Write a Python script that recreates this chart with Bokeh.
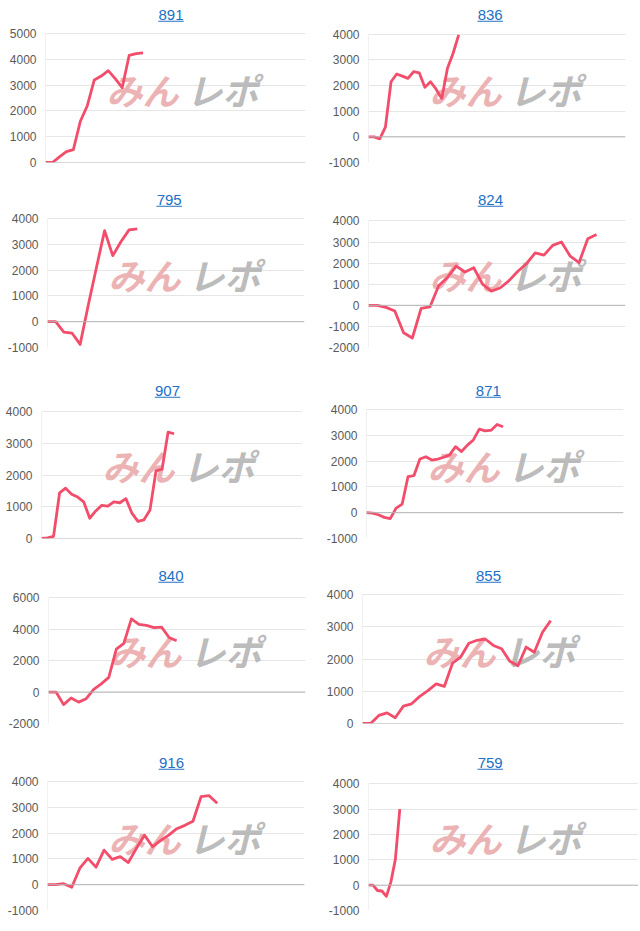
from bokeh.plotting import figure
from bokeh.layouts import column, row
from bokeh.models import Range1d, FixedTicker, Label, Span, BoxAnnotation, ColumnDataSource
from bokeh.embed import file_html
from bokeh.resources import INLINE

# ---------------- data ----------------
titles = ["891", "836", "795", "824", "907", "871", "840", "855", "916", "759"]

v891 = [0, 0, 220, 420, 500, 1600, 2200, 3200, 3350, 3560, 3250, 2900, 4150, 4220, 4250]
v836 = [0, 0, -80, 380, 2150, 2450, 2370, 2280, 2540, 2500, 1930, 2150, 1860, 1500, 2670, 3250, 3980]
v795 = [0, 0, -400, -440, -880, 650, 2100, 3530, 2560, 3100, 3560, 3600]
v824 = [0, 0, -100, -270, -1300, -1550, -150, -80, 930, 1320, 1860, 1580, 1780, 1000, 670,
        820, 1160, 1600, 1970, 2480, 2380, 2840, 3000, 2330, 2020, 3150, 3360]
v907 = [0, 20, 70, 1440, 1590, 1400, 1310, 1160, 640, 870, 1050, 1020, 1160, 1130, 1260,
        800, 540, 590, 900, 2140, 2190, 3360, 3310]
v871 = [0, -20, -80, -180, -230, 180, 330, 1400, 1440, 2080, 2170, 2040, 2080, 2150, 2240,
        2560, 2370, 2620, 2820, 3240, 3170, 3200, 3420, 3330]
v840 = [0, 0, -800, -380, -640, -420, 170, 520, 930, 2730, 3100, 4650, 4300, 4240, 4100,
        4130, 3470, 3260]
v855 = [0, 0, 250, 330, 180, 540, 610, 840, 1020, 1230, 1150, 1870, 2060, 2490, 2580, 2620,
        2420, 2320, 1930, 1790, 2370, 2210, 2830, 3190]
v916 = [0, 0, 40, -100, 640, 1020, 680, 1340, 980, 1090, 860, 1410, 1920, 1470, 1720, 1920,
        2170, 2300, 2460, 3410, 3450, 3160]
v759 = [0, 0, -210, -230, -440, 120, 1010, 3000]

series = [v891, v836, v795, v824, v907, v871, v840, v855, v916, v759]

# y-axis tick values per chart
ticks891 = [0, 1000, 2000, 3000, 4000, 5000]
ticks836 = [-1000, 0, 1000, 2000, 3000, 4000]
ticks795 = [-1000, 0, 1000, 2000, 3000, 4000]
ticks824 = [-2000, -1000, 0, 1000, 2000, 3000, 4000]
ticks907 = [0, 1000, 2000, 3000, 4000]
ticks871 = [-1000, 0, 1000, 2000, 3000, 4000]
ticks840 = [-2000, 0, 2000, 4000, 6000]
ticks855 = [0, 1000, 2000, 3000, 4000]
ticks916 = [-1000, 0, 1000, 2000, 3000, 4000]
ticks759 = [-1000, 0, 1000, 2000, 3000, 4000]
tick_sets = [ticks891, ticks836, ticks795, ticks824, ticks907, ticks871, ticks840, ticks855,
             ticks916, ticks759]

# ---------------- layout (not data) ----------------
PH = 129          # height of the tick range (plot area) in px
row_heights = [190, 192, 184, 187, 173]
col_widths = [320, 318]
# (plot top offset in row, border_left, plot width, x_end, title centre x from plot left)
layout = [
    (33, 45, 260, 37.3, 125.5),
    (34, 48, 257, 45.6, 121.7),
    (28, 47, 257, 31.5, 121.7),
    (31, 48, 257, 29.3, 122.0),
    (30, 41, 261, 43.3, 126.0),
    (27, 46, 257, 43.3, 121.8),
    (32, 48, 257, 34.1, 122.5),
    (28, 42, 261, 31.9, 126.0),
    (28, 47, 257, 31.8, 124.0),
    (31, 48, 270, 60.4, 121.7),
]

LINE_COLOR = "#f24d6b"
TITLE_COLOR = "#2170c6"


def make_chart(i, w, h):
    vals = series[i]
    ticks = tick_sets[i]
    top, bl, fw, x_end, tx = layout[i]
    y0, y1 = ticks[0], ticks[-1]
    # head-room above the top tick holds the title
    y_top = y1 + (y1 - y0) * top / PH
    p = figure(width=w, height=h, output_backend="svg", toolbar_location=None,
               x_axis_location=None, x_range=Range1d(0, x_end),
               y_range=Range1d(y0, y_top),
               min_border_top=0, min_border_left=bl,
               min_border_right=max(w - bl - fw, 0), min_border_bottom=h - top - PH)
    p.outline_line_color = None
    p.xgrid.visible = False
    p.ygrid.ticker = FixedTicker(ticks=ticks)
    p.ygrid.grid_line_color = "#e6e6e6"
    p.ygrid.grid_line_width = 1
    ax = p.yaxis[0]
    ax.ticker = FixedTicker(ticks=ticks)
    ax.major_label_overrides = {t: str(t) for t in ticks}
    ax.axis_line_color = None
    ax.major_tick_line_color = None
    ax.minor_tick_line_color = None
    ax.major_tick_out = 0
    ax.major_tick_in = 0
    ax.minor_tick_out = 0
    ax.major_label_standoff = 9
    ax.major_label_text_font = "Liberation Sans"
    ax.major_label_text_font_size = "12px"
    ax.major_label_text_color = "#5a5a5a"

    # watermark (logo)
    p.add_layout(Label(x=61, y=74, x_units="screen", y_units="screen", text="みん",
                       text_font="Noto Sans CJK JP", text_font_style="bold italic",
                       text_font_size="36px", text_color="#eaa9ab", text_alpha=0.9,
                       text_align="left", text_baseline="middle", level="underlay"))
    p.add_layout(Label(x=141, y=74, x_units="screen", y_units="screen", text="レポ",
                       text_font="Noto Sans CJK JP", text_font_style="bold italic",
                       text_font_size="36px", text_color="#b3b3b3", text_alpha=0.9,
                       text_align="left", text_baseline="middle", level="underlay"))

    # baselines
    p.add_layout(Span(location=0, dimension="width", line_color="#b4b4b4", line_width=1))
    p.segment(x0=[0], y0=[y0], x1=[0], y1=[y1], line_color="#e4e4e4", line_width=1)

    src = ColumnDataSource(dict(x=list(range(len(vals))), y=vals))
    p.line("x", "y", source=src, line_color=LINE_COLOR, line_width=2.8, line_join="round")

    # title with underline (above the plot area, inside the frame)
    cy = PH + 18.3
    p.add_layout(Label(x=tx, y=cy, x_units="screen", y_units="screen", text=titles[i],
                       text_font="Liberation Sans", text_font_size="15px",
                       text_color=TITLE_COLOR, text_align="center", text_baseline="middle"))
    uw = 25.5
    p.add_layout(BoxAnnotation(left=tx - uw / 2, right=tx + uw / 2, bottom=cy - 6.6,
                               top=cy - 5.5, left_units="screen", right_units="screen",
                               bottom_units="screen", top_units="screen",
                               fill_color=TITLE_COLOR, fill_alpha=1, line_color=None))
    return p


rows = []
for r in range(5):
    cells = [make_chart(2 * r + c, col_widths[c], row_heights[r]) for c in range(2)]
    rows.append(row(*cells))
page = column(*rows)

open("out.html", "w").write(file_html(page, INLINE))
